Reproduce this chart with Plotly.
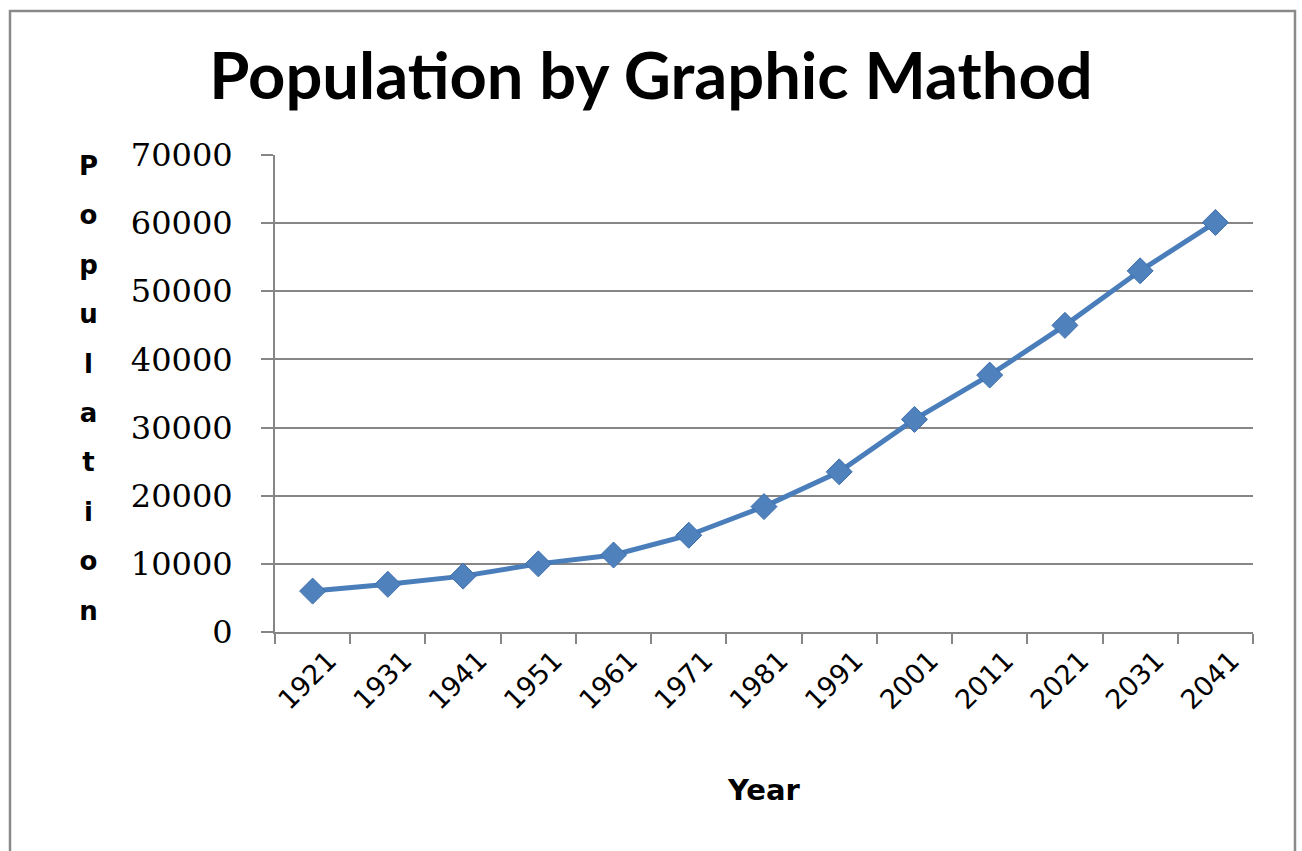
import plotly.graph_objects as go

years = ["1921", "1931", "1941", "1951", "1961", "1971", "1981",
         "1991", "2001", "2011", "2021", "2031", "2041"]
population = [6000, 7000, 8200, 10000, 11300, 14200, 18400,
              23500, 31200, 37700, 45000, 53000, 60100]
y_ticks = [0, 10000, 20000, 30000, 40000, 50000, 60000, 70000]

title_text = "Population by Graphic Mathod"
x_title = "Year"
y_title = "Population"

W, H = 1302, 851
L, R, T, B = 275, 49, 155, 219
pw, ph = W - L - R, H - T - B

def px_x(px):
    return (px - L) / pw

def px_y(py):
    return (H - B - py) / ph

fig = go.Figure()
fig.add_trace(go.Scatter(
    x=years, y=population, mode="lines+markers",
    line=dict(color="#4A7EBB", width=5),
    marker=dict(symbol="diamond", size=20, color="#4F81BD",
                line=dict(color="#3F6FAD", width=1)),
    showlegend=False,
))

grid = "#868686"
fig.update_layout(
    width=W, height=H,
    margin=dict(l=L, r=R, t=T, b=B),
    paper_bgcolor="white", plot_bgcolor="white",
    title=dict(text=title_text, x=0.5, xref="container", xanchor="center",
               y=1 - 76 / H, yref="container", yanchor="middle",
               font=dict(family="Lato", size=65, color="#000000", weight="bold")),
    xaxis=dict(
        type="category", tickson="boundaries", ticks="outside", ticklen=10,
        tickwidth=1.5, tickcolor=grid, showline=True, linecolor=grid, linewidth=2,
        showgrid=False, tickangle=-45, ticklabelshift=16,
        tickfont=dict(family="DejaVu Sans", size=27, color="#000000"),
        range=[-0.5, len(years) - 0.5],
    ),
    yaxis=dict(
        range=[0, 70000], tickvals=y_ticks,
        ticktext=[str(v) for v in y_ticks],
        ticks="outside", ticklen=12, tickwidth=1.5, tickcolor=grid,
        showline=True, linecolor=grid, linewidth=2,
        showgrid=True, gridcolor=grid, gridwidth=1.5, zeroline=False,
        tickfont=dict(family="DejaVu Serif", size=32, color="#000000"),
        ticklabelstandoff=22,
    ),
)

# stacked vertical y-axis title
letters = "<br>".join(
    f"<span style='font-size:26px'>{ch}</span>" for ch in y_title)
fig.add_annotation(
    text=letters, xref="paper", yref="paper", x=px_x(88), y=px_y(388),
    xanchor="center", yanchor="middle", showarrow=False, align="center",
    font=dict(family="DejaVu Sans", size=38, color="#000000", weight="bold"),
)

fig.add_annotation(
    text=x_title, xref="paper", yref="paper", x=px_x(764), y=px_y(790),
    xanchor="center", yanchor="middle", showarrow=False,
    font=dict(family="DejaVu Sans", size=29, color="#000000", weight="bold"),
)

# chart border
fig.add_shape(type="rect", xref="paper", yref="paper",
              x0=px_x(10), x1=px_x(1295), y0=px_y(880), y1=px_y(11),
              line=dict(color="#8a8a8a", width=2.5), fillcolor="rgba(0,0,0,0)",
              layer="below")

fig.write_html("out.html")
